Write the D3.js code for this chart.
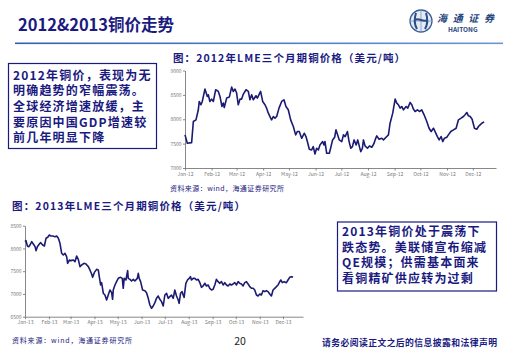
<!DOCTYPE html>
<html><head><meta charset="utf-8">
<script src="https://cdn.jsdelivr.net/npm/d3@7"></script>
<style>
html,body{margin:0;padding:0;background:#fff;}
svg{display:block;}
text{font-family:"Noto Sans CJK SC","Noto Sans",sans-serif;}
</style></head>
<body>
<svg id="c" width="520" height="359"></svg>
<script>
// ---- data (days since Jan 1, price USD/t) ----
const days2012 = [0,2.7,7.7,9.7,12.8,15.5,16.6,18.6,20.1,23.2,26,27.1,29,31,33,35.7,38.8,40.7,43,44.6,45.7,48.5,51.6,54.3,56.2,58.2,60.1,62,64,65.9,67.9,71,73.7,75.6,77.6,79.5,82.6,84.2,88,90.4,93.1,95,97,99.7,100.8,102.8,104.7,106.7,109.4,112.5,115.2,117.5,120.2,123,126.1,128.8,130.7,133,135.8,138.9,140.8,142.4,144.7,147.4,149.3,151.3,153.2,155.2,157.1,160.2,161.8,162.9,164.9,168,169.5,171.8,174.2,175.7,177.7,179.6,182.5,184.4,186.4,189.1,191,193,194.9,196.8,199.2,201.1,203,204.6,206.5,207.7,209.6,212.4,214.7,217.4,220.1,221.3,223.2,225.9,229,231,234.9,236.8,238.7,241.8,244.6,246.5,248.4,250.4,252.3,254.3,257.4,259.3,262,264,265.9,267.8,270.6,272.9,275.6,278.3,281.4,284.1,286.5,289.2,291.1,293.8,295.8,298.1,300,302,304.7,306.6,309.4,312.5,315.6,318.3,321.4,324.1,326,328,329.9,331.9,334.2,336.9,339.6,341.6,343.5,345.4,348.2];
const price2012 = [7679,7508,7521,7953,7988,8194,8365,8297,8365,8619,8468,8502,8365,8413,8365,8605,8571,8468,8262,8331,8242,8434,8454,8660,8571,8619,8537,8297,8413,8413,8516,8605,8571,8399,8502,8399,8482,8434,8571,8365,8297,8228,8125,8022,7988,8056,8022,8056,8228,8365,8399,8262,8194,7988,7851,7679,7748,7748,7610,7713,7645,7542,7384,7370,7439,7288,7405,7370,7473,7542,7473,7542,7302,7302,7405,7576,7631,7782,7679,7576,7542,7679,7645,7748,7542,7405,7439,7576,7473,7576,7439,7336,7405,7576,7453,7405,7453,7425,7508,7576,7659,7590,7611,7576,7645,7679,7919,8125,8413,8331,8297,8228,8262,8194,8262,8228,8345,8297,8207,8159,8194,8159,8194,8091,7954,7816,7748,7816,7748,7645,7576,7645,7542,7611,7631,7679,7748,7782,7816,7988,8022,8056,8091,8139,8070,8056,8001,7816,7796,7851,7885,7919,7947];
const days2013 = [0,1.3,3.1,4.8,6.5,8.7,10.8,13,14.3,16,18.6,20.3,22.9,25.1,27.2,29.4,31.5,33.2,35.8,38.9,41,43.2,45.3,47.5,49.6,51.8,53.9,55.2,57.4,59.5,62.6,64.7,66.9,69,71.2,73.3,76.4,78.9,82,84.1,86.3,87.6,89.7,92.7,94.9,96.2,97.9,99.2,101.4,103.5,105.7,107.8,110,112.2,113.4,114.3,116.5,118.6,120.8,123.8,126,127.2,128.5,130.7,132.9,133.7,135.9,138,140.2,142.3,145.4,146.7,147.9,149.7,152.3,155.3,157.4,159.6,161.7,163.9,166,168.2,170.3,172.5,174.6,176.8,179,181.1,183.3,185.4,187.6,189.7,191.9,194,196.2,198.4,199.6,201.4,203.5,204.8,206.1,208.3,210.4,212.6,214.3,215.6,217.8,219.9,222.1,224.2,226.4,228.5,230.7,232.8,235,237.2,239.3,241.5,243.6,245.8,247.9,250.1,252.3,254.4,256.6,258.7,260.9,263,265.2,267.3,269.5,271.7,273.8,276,278.1,280.3,282.4,284.6,286.7,288.9,291.1,293.2,295.4,297.5,299.7,301.8,304,306.1,308.3,310.5,312.6,314.8,316.9,319.1,321.2,323.4,325.6,327.7,329.9,331.2,333.3,335.5,338.5,340.6,342.8,345,347.1];
const price2013 = [8149,8171,8054,8039,8076,8149,8098,8039,7951,8039,8098,8127,8076,8054,8223,8245,8296,8274,8274,8259,8274,8223,8113,7893,7856,7893,7820,7673,7746,7732,7746,7710,7834,7761,7600,7637,7673,7658,7600,7527,7439,7365,7468,7541,7527,7380,7197,7248,7014,6977,6867,6977,7087,7028,6882,7087,7197,7270,7343,7365,7343,7124,7343,7307,7512,7343,7321,7285,7321,7285,7343,7453,7343,7270,7087,7072,7028,6904,6757,6684,6735,6809,6904,6955,6882,6831,6735,6977,7014,6904,6941,6977,6904,7087,6955,6867,6794,7014,7050,6977,6926,7234,7307,7343,7380,7307,7343,7343,7307,7321,7248,7146,7175,7234,7175,7197,7124,7087,7102,7197,7321,7270,7234,7270,7197,7248,7197,7175,7219,7197,7219,7248,7197,7270,7234,7219,7175,7248,7270,7219,7160,7124,7124,7087,6977,6955,6999,6977,7072,7050,7072,7050,6999,6955,7087,7124,7160,7197,7270,7307,7248,7270,7248,7307,7365,7380,7365];
const yTicks2012 = [7000,7500,8000,8500,9000];
const yTicks2013 = [6500,7000,7500,8000,8500];
const title = "2012&2013铜价走势";
const chartTitle2012 = "图：2012年LME三个月期铜价格（美元/吨）";
const chartTitle2013 = "图：2013年LME三个月期铜价格（美元/吨）";
const source = "资料来源：wind，海通证券研究所";
const note2012 = ["2012年铜价，表现为无","明确趋势的窄幅震荡。","全球经济增速放缓，主","要原因中国GDP增速较","前几年明显下降"];
const note2013 = ["2013年铜价处于震荡下","跌态势。美联储宣布缩减","QE规模；供需基本面来","看铜精矿供应转为过剩"];
const footer = "请务必阅读正文之后的信息披露和法律声明";
const pageNo = "20";

const NAVY = "#1a1a80";
const svg = d3.select("#c");

// header
svg.append("text").attr("x",18).attr("y",31).attr("font-size",16.5).attr("font-weight","bold")
  .attr("fill",NAVY).text(title);
const grad = svg.append("defs").append("linearGradient").attr("id","hl");
grad.append("stop").attr("offset","0%").attr("stop-color","#2f5fb8");
grad.append("stop").attr("offset","100%").attr("stop-color","#6f95d6");
svg.append("rect").attr("x",15).attr("y",42.5).attr("width",488).attr("height",1.6).attr("fill","url(#hl)");

// logo
const lg = svg.append("g").attr("transform","translate(421,21)");
lg.append("circle").attr("r",11).attr("fill","#e4ebf4").attr("stroke","#3d5f95").attr("stroke-width",1.3);
lg.append("path").attr("d","M-11,0 H11 M0,-11 V11").attr("stroke","#7d95bd").attr("stroke-width",0.8);
lg.append("path").attr("d","M-5,-8 C-7,-2 -7,3 -4,8 M5,-8 C7,-2 7,3 4,8 M-6,-1 C-2,-4 2,2 6,-1")
  .attr("stroke","#2b4c85").attr("stroke-width",2).attr("fill","none");
svg.append("text").attr("x",437).attr("y",22).attr("font-size",10).attr("font-style","italic")
  .attr("font-weight","bold").attr("fill","#27457d").attr("textLength",57).text("海通证券");
svg.append("text").attr("x",448).attr("y",32).attr("font-size",6.5).attr("font-weight","bold")
  .attr("font-family","Liberation Sans, Arial, sans-serif").attr("fill","#27457d").text("HAITONG");

function drawChart(cfg){
  const x = d3.scaleTime().domain([cfg.start, cfg.end]).range([cfg.x0, cfg.x1]);
  const y = d3.scaleLinear().domain([cfg.ticks[0], cfg.ticks[cfg.ticks.length-1]]).range([cfg.y0, cfg.y1]);
  const g = svg.append("g");
  const xa = g.append("g").attr("transform",`translate(0,${cfg.y0})`)
    .call(d3.axisBottom(x).ticks(d3.timeMonth.every(1)).tickFormat(d3.timeFormat("%b-%y")).tickSize(2.5).tickSizeOuter(0).tickPadding(1.5));
  const ya = g.append("g").attr("transform",`translate(${cfg.x0},0)`)
    .call(d3.axisLeft(y).tickValues(cfg.ticks).tickFormat(d3.format("d")).tickSize(2).tickSizeOuter(0).tickPadding(1.5));
  [xa,ya].forEach(a=>{
    a.selectAll("path,line").attr("stroke","#7a7a7a").attr("stroke-width",0.9);
    a.selectAll("text").attr("font-size",5).attr("fill","#777").attr("font-family","Liberation Sans, Arial, sans-serif");
  });
  const data = cfg.days.map((d,i)=>[d3.timeHour.offset(cfg.start, Math.round(d*24)), cfg.vals[i]]);
  g.append("path").datum(data).attr("fill","none").attr("stroke","#1b1b72").attr("stroke-width",1.6)
    .attr("stroke-linejoin","round")
    .attr("d", d3.line().x(d=>x(d[0])).y(d=>y(d[1])));
}

drawChart({start:new Date(2012,0,1), end:new Date(2012,11,28), x0:185, x1:496, y0:168, y1:70.5,
  ticks:yTicks2012, days:days2012, vals:price2012});
drawChart({start:new Date(2013,0,1), end:new Date(2013,11,27), x0:25, x1:303, y0:316.7, y1:225.7,
  ticks:yTicks2013, days:days2013, vals:price2013});

// chart titles
svg.append("text").attr("x",173).attr("y",61.5).attr("font-size",10.5).attr("font-weight","bold")
  .attr("fill",NAVY).attr("textLength",232).text(chartTitle2012);
svg.append("text").attr("x",12).attr("y",210).attr("font-size",10.5).attr("font-weight","bold")
  .attr("fill",NAVY).attr("textLength",233).text(chartTitle2013);

// sources
svg.append("text").attr("x",170).attr("y",191).attr("font-size",7).attr("fill",NAVY).attr("textLength",114).text(source);
svg.append("text").attr("x",12).attr("y",342.5).attr("font-size",7).attr("fill",NAVY).attr("textLength",120).text(source);

// note boxes
function noteBox(x,y,w,h,lines,tx,ty,lh){
  svg.append("rect").attr("x",x).attr("y",y).attr("width",w).attr("height",h)
    .attr("fill","#fff").attr("stroke",NAVY).attr("stroke-width",1.2);
  lines.forEach((l,i)=>svg.append("text").attr("x",tx).attr("y",ty+i*lh).attr("font-size",12)
    .attr("letter-spacing",1.2).attr("font-weight","bold").attr("fill",NAVY).text(l));
}
noteBox(8.5,63.5,148,85,note2012,13,79.5,15.7);
noteBox(337.5,222,159,69,note2013,342,236,15.6);

// footer
svg.append("text").attr("x",240).attr("y",345).attr("font-size",10.5).attr("text-anchor","middle")
  .attr("fill","#222").attr("font-family","Liberation Sans, Arial, sans-serif").text(pageNo);
svg.append("text").attr("x",322).attr("y",346).attr("font-size",8.8).attr("font-weight","bold")
  .attr("fill",NAVY).attr("textLength",175).text(footer);
</script>
</body></html>
